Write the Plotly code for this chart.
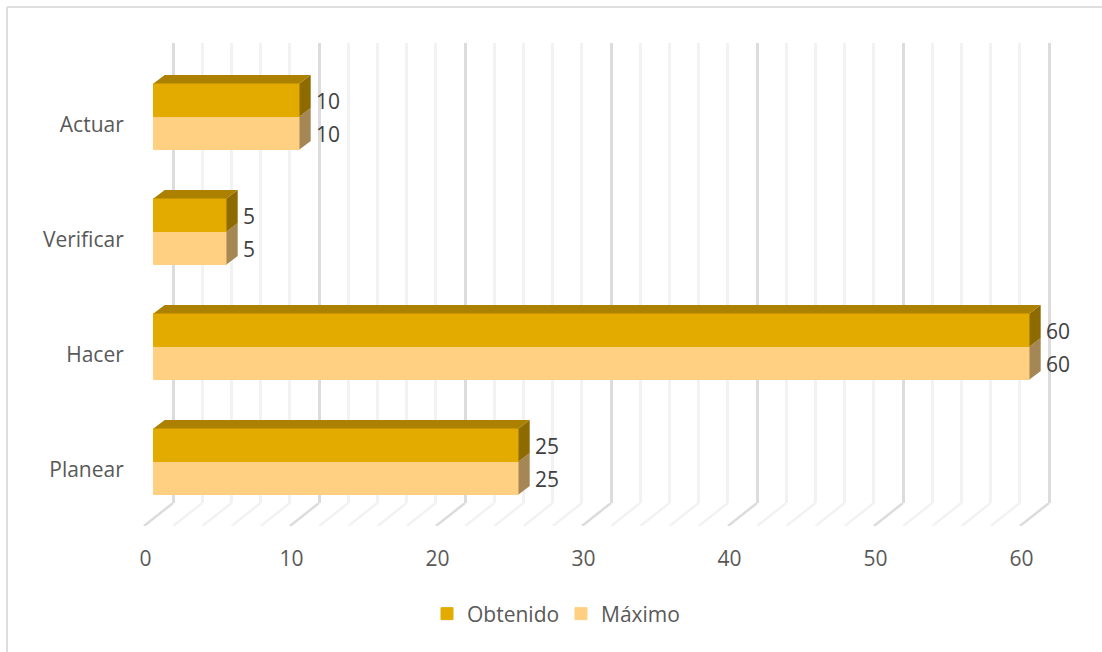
import plotly.graph_objects as go

categories = ["Planear", "Hacer", "Verificar", "Actuar"]
obtenido = [25, 60, 5, 10]
maximo = [25, 60, 5, 10]
major_ticks = [0, 10, 20, 30, 40, 50, 60]
minor_ticks = [v for v in range(0, 61, 2) if v % 10 != 0]

W, H = 1102, 652
PX_PER_UNIT = 14.6
CAT_PX = 115.0
BAR_PX = 33.0
DEPTH_X = 11.2 / PX_PER_UNIT
DEPTH_Y = 8.5 / CAT_PX
BAR_H = BAR_PX / CAT_PX
FONT = "Open Sans"

C_OBT, C_MAX = "#E3AB00", "#FFCF82"
C_OBT_TOP, C_OBT_SIDE = "#AC8000", "#8E6B00"
C_MAX_SIDE = "#A58655"
C_MAJOR, C_MINOR = "#DCDCDC", "#F2F2F2"


def px_dom(a, b, size):
    return [a / size, b / size]


def ypx_dom(top, bottom):
    return [1 - bottom / H, 1 - top / H]


def polys(rows):
    xs, ys = [], []
    for pts in rows:
        for x, y in pts:
            xs.append(x)
            ys.append(y)
        xs.append(None)
        ys.append(None)
    return xs, ys


def face_trace(rows, color):
    xs, ys = polys(rows)
    return go.Scatter(x=xs, y=ys, mode="lines", fill="toself", fillcolor=color,
                      line=dict(width=0, color=color), hoverinfo="skip",
                      showlegend=False, xaxis="x2", yaxis="y3")


def side(v, y0, y1):
    return [(v, y0), (v + DEPTH_X, y0 + DEPTH_Y), (v + DEPTH_X, y1 + DEPTH_Y), (v, y1)]


def floor_trace(ticks, color):
    xs, ys = [], []
    for v in ticks:
        xs += [v, v - 29 / PX_PER_UNIT, None]
        ys += [1, 0, None]
    return go.Scatter(x=xs, y=ys, mode="lines", line=dict(color=color, width=2.5),
                      hoverinfo="skip", showlegend=False, xaxis="x3", yaxis="y4")


fig = go.Figure()
fig.add_trace(go.Scatter(x=[None], y=[None], xaxis="x", yaxis="y", showlegend=False, hoverinfo="skip"))
fig.add_trace(floor_trace(minor_ticks, C_MINOR))
fig.add_trace(floor_trace(major_ticks, C_MAJOR))

fig.add_trace(go.Bar(name="Máximo", y=categories, x=maximo, orientation="h",
                     marker=dict(color=C_MAX, line=dict(width=1, color=C_MAX)),
                     xaxis="x2", yaxis="y2"))
fig.add_trace(go.Bar(name="Obtenido", y=categories, x=obtenido, orientation="h",
                     marker=dict(color=C_OBT, line=dict(width=1, color=C_OBT)),
                     xaxis="x2", yaxis="y2"))

fig.add_trace(face_trace([side(v, i - BAR_H, i) for i, v in enumerate(maximo)], C_MAX_SIDE))
fig.add_trace(face_trace([side(v, i, i + BAR_H) for i, v in enumerate(obtenido)], C_OBT_SIDE))
fig.add_trace(face_trace(
    [[(0, i + BAR_H), (DEPTH_X, i + BAR_H + DEPTH_Y), (v + DEPTH_X, i + BAR_H + DEPTH_Y), (v, i + BAR_H)]
     for i, v in enumerate(obtenido)], C_OBT_TOP))

label_dx = 16.5 / PX_PER_UNIT
label_dy = 3.5 / CAT_PX
for vals, sign in ((obtenido, 1), (maximo, -1)):
    fig.add_trace(go.Scatter(
        x=[v + label_dx for v in vals],
        y=[i + sign * BAR_H / 2 - label_dy for i in range(len(vals))],
        text=[str(v) for v in vals], mode="text", textposition="middle right",
        textfont=dict(family=FONT, size=21, color="#404040"),
        hoverinfo="skip", showlegend=False, xaxis="x2", yaxis="y3", cliponaxis=False))

grid_left, grid_right = 160, 1070
x_left, x_right = 130, 1095
fig.update_layout(
    width=W, height=H, autosize=False,
    margin=dict(l=0, r=0, t=0, b=0),
    paper_bgcolor="white", plot_bgcolor="rgba(0,0,0,0)",
    font=dict(family=FONT, size=21, color="#595959"),
    barmode="group", bargap=1 - 2 * BAR_H, bargroupgap=0,
    showlegend=True,
    legend=dict(orientation="h", traceorder="reversed", x=(467 - 31) / W, xanchor="left",
                y=1 - 614 / H, yanchor="middle", entrywidth=98, entrywidthmode="pixels",
                indentation=-9,
                font=dict(family=FONT, size=21, color="#595959"),
                bgcolor="rgba(0,0,0,0)"),
    xaxis=dict(domain=px_dom(grid_left, grid_right, W),
               range=[(grid_left - 173) / PX_PER_UNIT, (grid_right - 173) / PX_PER_UNIT],
               tickmode="array", tickvals=major_ticks, showticklabels=False, ticks="",
               showgrid=True, gridcolor=C_MAJOR, gridwidth=3, zeroline=False, showline=False,
               minor=dict(tickmode="array", tickvals=minor_ticks, showgrid=True,
                          gridcolor=C_MINOR, gridwidth=3, ticks=""),
               anchor="y"),
    yaxis=dict(domain=ypx_dom(43, 503), range=[0, 1], showgrid=False, zeroline=False,
               showticklabels=False, ticks="", anchor="x"),
    xaxis3=dict(domain=px_dom(x_left, grid_right, W),
                range=[(x_left - 173) / PX_PER_UNIT, (grid_right - 173) / PX_PER_UNIT],
                showgrid=False, showticklabels=False, ticks="", zeroline=False, anchor="y4"),
    yaxis4=dict(domain=ypx_dom(503, 526), range=[0, 1], showgrid=False, zeroline=False,
                showticklabels=False, ticks="", anchor="x3"),
    xaxis2=dict(domain=px_dom(x_left, x_right, W),
                range=[(x_left - 153.5) / PX_PER_UNIT, (x_right - 153.5) / PX_PER_UNIT],
                tickmode="array", tickvals=major_ticks, showgrid=False, zeroline=False,
                ticks="outside", ticklen=21, tickcolor="rgba(0,0,0,0)",
                ticklabelshift=-8, anchor="y2",
                tickfont=dict(family=FONT, size=21, color="#595959")),
    yaxis2=dict(domain=ypx_dom(59, 519), type="category", categoryorder="array",
                categoryarray=categories, range=[-0.5, 3.5], showgrid=False, zeroline=False,
                ticks="outside", ticklen=1, tickcolor="rgba(0,0,0,0)",
                ticklabelshift=8, anchor="x2",
                tickfont=dict(family=FONT, size=21, color="#595959")),
    yaxis3=dict(domain=ypx_dom(59, 519), range=[-0.5, 3.5], showgrid=False, zeroline=False,
                showticklabels=False, ticks="", anchor="x2"),
    shapes=[
        dict(type="line", xref="paper", yref="paper", x0=7 / W, x1=1, y0=1 - 7 / H, y1=1 - 7 / H,
             line=dict(color="#DEDEDE", width=2)),
        dict(type="line", xref="paper", yref="paper", x0=7 / W, x1=7 / W, y0=0, y1=1 - 7 / H,
             line=dict(color="#DEDEDE", width=2)),
    ],
)

fig.write_html("out.html", config={"displayModeBar": False},
               post_script="document.body.style.margin='0';")
